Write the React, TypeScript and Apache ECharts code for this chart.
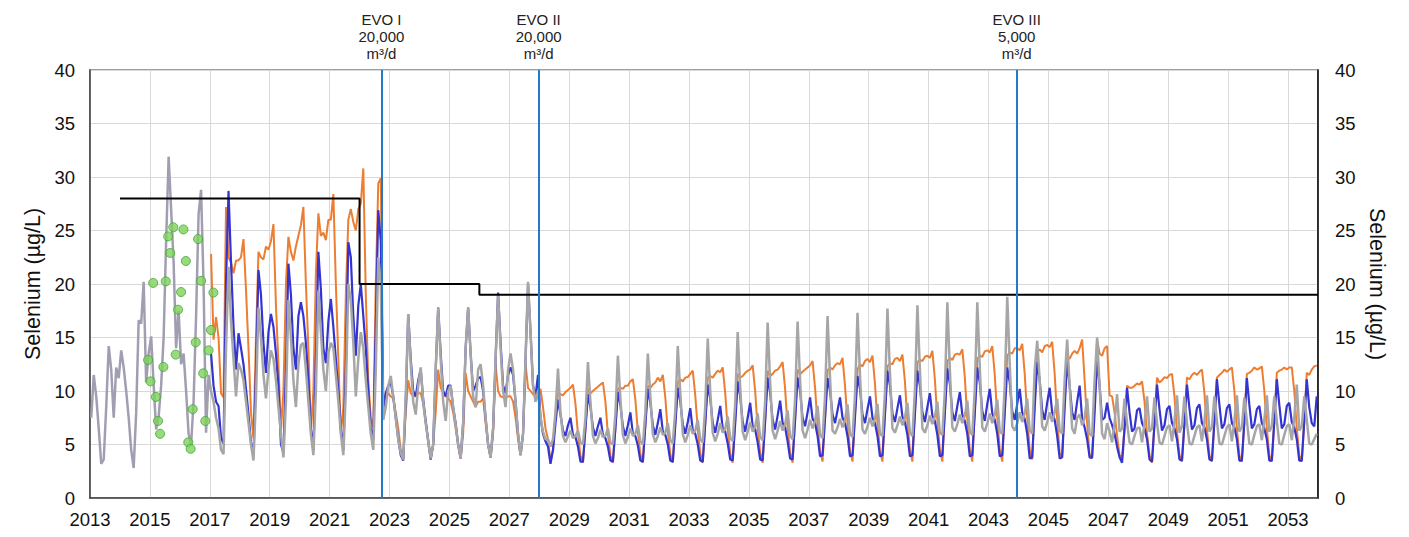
import React, { useEffect, useRef } from 'react';
import * as echarts from 'echarts';

const FONT = '"Liberation Sans", Arial, Helvetica, sans-serif';

// ---- Data (monthly values, one row per year, Jan..Dec) ----
const grayStartYear = 2013;
const grayMonthly: number[][] = [
  /*2013*/ [7.5, 11.5, 9.5, 6.5, 3.2, 3.6, 8.5, 14.2, 12, 7.5, 12.2, 11.2],
  /*2014*/ [13.8, 12.2, 10, 7.5, 4.5, 2.8, 8, 16.6, 16.3, 20.2, 10.8, 13.5],
  /*2015*/ [15.1, 10.6, 6.4, 7.6, 10.5, 15, 24, 31.9, 27, 22, 14, 17.5],
  /*2016*/ [12.5, 13.5, 10, 6, 5, 9, 17, 26.5, 28.8, 20, 6.1, 11.5],
  /*2017*/ [10, 9, 7.5, 6.5, 4.5, 4.1, 14, 21.6, 16.5, 13, 9.5, 12.6],
  /*2018*/ [12, 11, 9, 7, 5, 3.5, 9.5, 17.8, 15, 11.5, 9.3, 12],
  /*2019*/ [13.8, 13, 11, 8.5, 6, 3.8, 9, 18.5, 15, 11, 8.5, 12.5],
  /*2020*/ [14.3, 14.5, 12, 9, 6, 4, 10, 19.4, 15.5, 12, 10, 13.5],
  /*2021*/ [14.5, 14, 11.5, 9, 6, 4, 10, 20, 18.5, 14.5, 9.5, 13],
  /*2022*/ [15.5, 14, 11, 8.5, 6, 4.5, 12, 22.5, 20, 7.3, 8.5, 10.5],
  /*2023*/ [11.4, 9.5, 7.5, 5.5, 4.2, 3.6, 9.5, 17.2, 12.5, 9, 7.8, 10.5],
  /*2024*/ [12.2, 9, 7, 5.3, 3.7, 5, 12, 17.8, 13, 9, 7.2, 10],
  /*2025*/ [10.5, 8.5, 6.8, 5, 3.7, 7, 14, 17.8, 13.5, 9.5, 8.5, 12],
  /*2026*/ [12.5, 10.5, 7.5, 5, 3.8, 6.5, 13, 19, 14, 10, 8.5, 12],
  /*2027*/ [13.5, 12, 9, 6, 4, 6, 13, 20.2, 15.5, 10.5, 9, 10],
  /*2028*/ [7.5, 6.2, 5.5, 5.5, 4.8, 5.5, 8, 12.1, 8, 5.8, 5.2, 5.8],
  /*2029*/ [6.3, 5.6, 5.8, 6.3, 5.2, 5.0, 7.5, 12.7, 9.0, 5.8, 5.1, 5.6],
  /*2030*/ [6.4, 5.7, 5.8, 6.5, 5.2, 5.0, 7.8, 13.3, 9.3, 5.9, 5.1, 5.7],
  /*2031*/ [6.5, 5.8, 6.0, 6.8, 5.3, 5.0, 8, 13.5, 9.5, 6.0, 5.2, 5.8],
  /*2032*/ [6.6, 5.9, 6.1, 7.0, 5.4, 5.1, 8.2, 14.2, 9.8, 6.0, 5.2, 5.9],
  /*2033*/ [6.8, 6.0, 6.3, 7.3, 5.5, 5.2, 8.5, 14.9, 10, 6.1, 5.3, 6.0],
  /*2034*/ [7.0, 6.1, 6.5, 7.6, 5.6, 5.3, 8.8, 15.5, 10.3, 6.2, 5.4, 6.2],
  /*2035*/ [7.1, 6.2, 6.7, 7.9, 5.7, 5.4, 9, 16.4, 10.8, 6.3, 5.5, 6.3],
  /*2036*/ [7.2, 6.3, 6.9, 8.2, 5.8, 5.5, 9.2, 16.5, 11, 6.3, 5.6, 6.4],
  /*2037*/ [7.3, 6.5, 7.2, 8.6, 5.9, 5.6, 9.5, 17.0, 11.2, 6.3, 6.0, 6.6],
  /*2038*/ [7.4, 6.6, 7.3, 8.75, 6.0, 5.7, 9.6, 17.3, 11.5, 6.4, 6.0, 6.7],
  /*2039*/ [7.5, 6.7, 7.4, 8.8, 6.0, 5.8, 9.8, 17.7, 11.7, 6.5, 6.1, 6.8],
  /*2040*/ [7.6, 6.8, 7.5, 8.9, 6.1, 5.8, 10, 18.0, 12, 6.5, 6.1, 6.8],
  /*2041*/ [7.7, 6.9, 7.6, 9.0, 6.1, 5.9, 10, 18.3, 12, 6.6, 6.2, 6.9],
  /*2042*/ [7.8, 7.0, 7.7, 9.1, 6.2, 5.9, 10.2, 18.3, 12.2, 6.6, 6.2, 7.0],
  /*2043*/ [7.9, 7.0, 7.8, 9.2, 6.2, 6.0, 10.5, 18.8, 12.5, 6.7, 6.3, 7.0],
  /*2044*/ [8.0, 7.1, 7.9, 9.3, 6.3, 6.0, 12, 14.7, 11, 6.7, 6.3, 7.1],
  /*2045*/ [8.0, 7.1, 8.0, 9.3, 6.3, 6.0, 11, 14.8, 10.5, 6.5, 6.0, 7.5],
  /*2046*/ [7.8, 6.8, 7.5, 9.3, 6.0, 5.8, 11, 15.0, 10.5, 6.0, 5.5, 7.0],
  /*2047*/ [6.2, 5.2, 7.0, 9.7, 6.2, 6.5, 9.3, 7.0, 5.2, 5.0, 5.8, 6.5],
  /*2048*/ [6.6, 5.2, 7.0, 9.5, 6.2, 6.5, 9.4, 7.0, 5.2, 5.0, 5.8, 6.6],
  /*2049*/ [6.8, 5.3, 7.2, 9.6, 6.1, 6.7, 9.5, 7.0, 5.1, 5.0, 5.8, 6.6],
  /*2050*/ [6.8, 5.3, 7.2, 9.6, 6.2, 6.6, 9.5, 7.2, 5.1, 5.0, 5.8, 6.6],
  /*2051*/ [6.9, 5.3, 7.2, 9.6, 6.2, 6.6, 9.4, 7.2, 5.1, 5.0, 5.9, 6.7],
  /*2052*/ [6.9, 5.4, 7.3, 9.6, 6.2, 6.7, 9.5, 7.2, 5.1, 5.0, 5.9, 6.7],
  /*2053*/ [6.9, 5.4, 7.5, 10.6, 6.3, 6.7, 9.5, 7.3, 5.1, 5.0, 5.5, 6.0],
];

const modelStartYear = 2017;
const orangeMonthly: number[][] = [
  /*2017*/ [22.8, 14.8, 16.9, 15, 9.8, 9.4, 27.2, 22.5, 22, 21, 22.2, 22.2],
  /*2018*/ [22.5, 24.2, 19.5, 14, 8, 5.6, 15, 23, 22.5, 22.3, 23.5, 23.2],
  /*2019*/ [24, 25.6, 18, 12.5, 6.3, 10, 20, 24.4, 23, 22.2, 23.5, 24.5],
  /*2020*/ [25.5, 27.2, 20, 14, 6.2, 10, 21, 26.6, 24.5, 24.8, 24.1, 26],
  /*2021*/ [26, 28.4, 20, 13, 6, 8.5, 19, 26, 27, 25.8, 25, 27],
  /*2022*/ [27.5, 30.8, 19, 11, 7.5, 6.6, 20, 29.4, 29.9, 9.5, 9.2, 9.8],
  /*2023*/ [9.5, 9.3, 8, 6.5, 4.5, 3.7, 8, 11, 9.8, 9.5, 9.5, 9.8],
  /*2024*/ [9.8, 8.8, 7, 5.5, 3.7, 5, 8, 12, 10.3, 9.8, 9.5, 9.3],
  /*2025*/ [9, 8, 6.5, 5, 3.7, 6, 11.7, 10, 9.5, 9, 8.5, 9],
  /*2026*/ [9, 9.3, 7, 5, 3.8, 6, 12.5, 10, 9.5, 9.4, 9.3, 9.5],
  /*2027*/ [9.5, 9, 7.5, 5.5, 4, 6, 12.5, 10.3, 10, 9.7, 9.5, 9.5],
  /*2028*/ [10.2, 8.5, 6.5, 5.5, 3.4, 4.5, 8, 9.8, 9.7, 9.6, 9.9, 10.1],
  /*2029*/ [10.3, 10.6, 8.8, 6.0, 4.0, 3.3, 6.5, 10.2, 9.8, 10, 10.2, 10.4],
  /*2030*/ [10.6, 10.8, 9.0, 6.0, 4.0, 3.3, 6.5, 10.2, 10.3, 10.2, 10.5, 10.5],
  /*2031*/ [10.9, 11.1, 9.2, 6.2, 4.1, 3.3, 6.8, 10.5, 10.3, 10.6, 10.8, 11.25],
  /*2032*/ [10.9, 11.5, 9.4, 6.2, 4.1, 3.3, 7, 10.8, 11.1, 10.9, 11.25, 11.3],
  /*2033*/ [11.6, 11.9, 9.6, 6.4, 4.2, 3.3, 7, 11.25, 11.4, 11.25, 11.6, 11.9],
  /*2034*/ [11.75, 12.2, 9.8, 6.4, 4.2, 3.3, 7.2, 11.6, 11.25, 11.4, 11.7, 11.9],
  /*2035*/ [12, 12.4, 10, 6.5, 4.3, 3.3, 7.2, 11.9, 11.4, 11.6, 11.9, 12],
  /*2036*/ [12.3, 12.7, 10.2, 6.6, 4.3, 3.3, 7.5, 12, 11.6, 11.8, 12, 12.2],
  /*2037*/ [12.4, 12.8, 10.3, 6.8, 4.4, 3.4, 7.5, 11.9, 12.2, 12, 12.4, 12.6],
  /*2038*/ [12.5, 13.1, 10.5, 7.0, 4.4, 3.4, 7.8, 12, 12.5, 12.3, 12.8, 13],
  /*2039*/ [12.7, 13.3, 10.7, 7.0, 4.4, 3.4, 7.8, 12.3, 12.6, 12.5, 13, 13.1],
  /*2040*/ [12.8, 13.4, 10.9, 7.2, 4.5, 3.4, 8, 12.7, 12.9, 12.8, 13.2, 13.3],
  /*2041*/ [13.1, 13.75, 11.1, 7.3, 4.5, 3.4, 8, 12.8, 13.1, 12.9, 13.4, 13.5],
  /*2042*/ [13.4, 13.9, 11.3, 7.4, 4.5, 3.4, 8.2, 13, 13.3, 13.2, 13.7, 13.8],
  /*2043*/ [13.6, 14.2, 11.5, 7.5, 4.5, 3.4, 8.5, 13.3, 13.6, 13.5, 14, 14],
  /*2044*/ [13.8, 14.4, 11.6, 7.6, 4.5, 3.6, 9, 13.6, 13.9, 13.6, 14.2, 14.3],
  /*2045*/ [14.1, 14.6, 11.6, 7.4, 4.2, 3.9, 9, 13.3, 13, 13.5, 13.75, 13.5],
  /*2046*/ [14, 14.8, 11.0, 7.0, 4, 3.9, 9, 14.8, 13.5, 13.3, 14, 14.2],
  /*2047*/ [9.6, 9.5, 8, 5.8, 4, 3.8, 6.5, 10.5, 10.3, 10.3, 10.5, 10.7],
  /*2048*/ [10.6, 10.9, 9.0, 6.0, 4, 3.3, 7, 11.25, 10.8, 11, 11.3, 11.2],
  /*2049*/ [11.5, 11.6, 9.5, 6.2, 4, 3.4, 7, 11.25, 11.1, 11.5, 11.7, 11.5],
  /*2050*/ [11.8, 12, 9.8, 6.4, 4, 3.4, 7.2, 11.25, 11.5, 11.7, 12, 11.8],
  /*2051*/ [12, 12.2, 10, 6.5, 4, 3.4, 7.2, 11.6, 11.7, 11.9, 12.2, 12],
  /*2052*/ [12.1, 12.3, 10, 6.5, 4, 3.4, 7.2, 11.7, 11.9, 12, 12.2, 12],
  /*2053*/ [12.2, 12.2, 10, 6.5, 4, 3.4, 7.2, 11.7, 11.5, 12, 12.3, 12.4],
];

const blueMonthly: number[][] = [
  /*2017*/ [13.5, 10.5, 9.0, 8.6, 5.6, 5.1, 20, 28.7, 22, 16, 12, 15.4],
  /*2018*/ [14, 12.5, 10.2, 7.8, 5.2, 4.0, 12, 21.3, 19, 14.5, 11.7, 15.5],
  /*2019*/ [17.2, 16, 13.5, 10.5, 5, 4.2, 12, 21.9, 19, 14, 12, 17],
  /*2020*/ [18.3, 17, 14.5, 11, 6.5, 4.5, 13, 23, 19.5, 14, 12.6, 16.5],
  /*2021*/ [18.6, 16, 13, 10, 6.5, 4.5, 12, 23.9, 22.5, 17, 13.3, 18],
  /*2022*/ [20, 17, 14, 10, 6.5, 5.5, 16, 26.9, 24, 8.3, 9.8, 10.5],
  /*2023*/ [10.8, 9.5, 7.5, 5.5, 4.0, 3.5, 9, 17.2, 13, 10, 9.5, 11],
  /*2024*/ [12, 9.2, 7.2, 5.3, 3.6, 5, 12, 17.8, 13.5, 10, 9.5, 10.5],
  /*2025*/ [10.5, 8.5, 7, 5, 3.7, 7, 14, 17.8, 13.5, 10, 10.5, 11.2],
  /*2026*/ [11.3, 10, 7.5, 5, 3.8, 6.5, 13, 19.2, 14.5, 10.5, 9.8, 11.5],
  /*2027*/ [12.2, 11.5, 9, 6, 4, 6, 13, 20, 15.5, 10.5, 9.5, 11.5],
  /*2028*/ [7.5, 6.0, 5.3, 4.8, 3.2, 4.5, 7, 9.2, 7.8, 6.3, 5.8, 6.8],
  /*2029*/ [7.5, 5.9, 5.7, 4.8, 3.4, 3.4, 6.5, 9.7, 8.5, 6.6, 5.8, 6.7],
  /*2030*/ [7.5, 5.9, 5.6, 4.8, 3.5, 3.4, 6.5, 9.9, 8.7, 6.7, 5.8, 6.8],
  /*2031*/ [8.0, 6.0, 5.8, 4.9, 3.5, 3.4, 6.8, 10.2, 8.9, 6.8, 5.9, 7.0],
  /*2032*/ [8.3, 6.2, 5.9, 5.0, 3.5, 3.4, 6.8, 10.3, 9.0, 6.9, 6.0, 7.1],
  /*2033*/ [8.4, 6.3, 6.0, 5.0, 3.5, 3.4, 7, 10.6, 9.3, 7.0, 6.1, 7.3],
  /*2034*/ [8.6, 6.5, 6.2, 5.1, 3.6, 3.5, 7, 10.9, 9.5, 7.1, 6.2, 7.5],
  /*2035*/ [8.9, 6.7, 6.4, 5.2, 3.6, 3.5, 7.2, 11.25, 9.8, 7.3, 6.4, 7.7],
  /*2036*/ [9.1, 7.0, 6.6, 5.3, 3.7, 3.6, 7.3, 11.25, 10, 7.5, 6.7, 8.0],
  /*2037*/ [9.4, 7.4, 7.0, 5.8, 3.9, 4.0, 7.5, 11.2, 10, 7.8, 7.0, 8.2],
  /*2038*/ [9.4, 7.5, 7.0, 5.8, 3.9, 4.0, 7.6, 11.4, 10.2, 7.8, 7.0, 8.3],
  /*2039*/ [9.5, 7.5, 7.0, 5.8, 3.9, 4.0, 7.8, 11.9, 10.5, 7.9, 7.1, 8.4],
  /*2040*/ [9.6, 7.6, 7.1, 5.9, 3.9, 4.0, 7.8, 11.9, 10.5, 8.0, 7.1, 8.5],
  /*2041*/ [9.8, 7.7, 7.2, 5.9, 3.9, 4.0, 8, 12.1, 10.7, 8.0, 7.2, 8.6],
  /*2042*/ [9.9, 7.8, 7.2, 6.0, 3.9, 4.0, 8, 12.2, 10.8, 8.1, 7.2, 8.8],
  /*2043*/ [10.2, 7.9, 7.3, 6.0, 3.9, 4.0, 8, 12.2, 10.8, 8.1, 7.3, 8.8],
  /*2044*/ [10.2, 8.0, 7.4, 6.0, 3.7, 3.8, 8.5, 12.7, 11, 8.2, 7.3, 8.9],
  /*2045*/ [10.3, 8.0, 7.3, 5.8, 3.7, 3.8, 8.5, 12.8, 10.5, 8.0, 7.3, 9.0],
  /*2046*/ [10.5, 7.4, 6.6, 5.5, 3.8, 3.75, 8, 13.0, 10.5, 7.3, 7.5, 8.9],
  /*2047*/ [7.5, 6.8, 6.0, 4.8, 3.8, 3.3, 6.5, 10.3, 8.0, 6.2, 6.5, 8.2],
  /*2048*/ [8.4, 7.0, 6.5, 5.5, 3.6, 3.4, 7.0, 10.6, 8.3, 6.3, 6.8, 8.3],
  /*2049*/ [8.6, 7.0, 6.5, 5.5, 3.6, 3.5, 7.0, 10.6, 8.4, 6.4, 6.8, 8.4],
  /*2050*/ [8.75, 7.0, 6.6, 5.5, 3.6, 3.5, 7.2, 11.1, 8.7, 6.5, 6.9, 8.4],
  /*2051*/ [8.75, 7.0, 6.6, 5.5, 3.5, 3.5, 7.2, 11.2, 8.7, 6.5, 6.9, 8.3],
  /*2052*/ [8.6, 7.0, 6.5, 5.5, 3.5, 3.5, 7.2, 11.1, 8.7, 6.5, 6.9, 8.6],
  /*2053*/ [8.9, 7.1, 6.6, 5.5, 3.5, 3.5, 7.2, 11.1, 8.5, 7.0, 6.7, 9.5],
];

// black step (guideline) : [year, value]
const limitSteps: number[][] = [
  [2014, 28],
  [2022, 20],
  [2026, 19],
  [2054, 19],
];

// observed (green dots) : [year, value]
const observed: number[][] = [
  [2014.94, 12.9], [2015.02, 10.9], [2015.11, 20.1], [2015.2, 9.45], [2015.27, 7.2],
  [2015.34, 6.0], [2015.45, 12.25], [2015.53, 20.25], [2015.61, 24.45], [2015.68, 22.9],
  [2015.78, 25.3], [2015.86, 13.4], [2015.94, 17.6], [2016.04, 19.25], [2016.12, 25.1],
  [2016.2, 22.15], [2016.28, 5.2], [2016.36, 4.6], [2016.43, 8.3], [2016.53, 14.55],
  [2016.61, 24.2], [2016.71, 20.3], [2016.78, 11.65], [2016.85, 7.2], [2016.96, 13.8],
  [2017.04, 15.7], [2017.12, 19.2],
];

const evoDates = [2022.73, 2027.98, 2043.94];
const evoLabels = ['EVO I\n20,000\nm³/d', 'EVO II\n20,000\nm³/d', 'EVO III\n5,000\nm³/d'];

const xMin = 2013;
const xMax = 2054;
const yMin = 0;
const yMax = 40;
const historicEnd = 2017;
const yName = 'Selenium (\u00b5g/L)';

function toSeries(startYear: number, rows: number[][]) {
  const out: number[][] = [];
  rows.forEach((row, yi) => {
    row.forEach((v, m) => {
      out.push([startYear + yi + (m + 0.5) / 12, v]);
    });
  });
  return out;
}

export default function App() {
  const ref = useRef<HTMLDivElement>(null);

  useEffect(() => {
    document.body.style.margin = '0';
    if (!ref.current) return;
    const chart = echarts.init(ref.current, undefined, { renderer: 'svg' });

    const grayData = toSeries(grayStartYear, grayMonthly);
    const gFirst = grayData[0][0];
    const gLast = grayData[grayData.length - 1][0];
    const split = (historicEnd - gFirst) / (gLast - gFirst);
    const grayColor = new echarts.graphic.LinearGradient(0, 0, 1, 0, [
      { offset: 0, color: '#a29eb1' },
      { offset: split, color: '#a29eb1' },
      { offset: Math.min(1, split + 0.001), color: '#a6a6a6' },
      { offset: 1, color: '#a6a6a6' },
    ]);

    const axisLabelStyle = { color: '#111', fontSize: 18.5, fontFamily: FONT };

    const option: any = {
      animation: false,
      backgroundColor: '#ffffff',
      textStyle: { fontFamily: FONT },
      grid: {
        left: 90,
        right: 91,
        top: 70,
        bottom: 39,
        show: true,
        borderColor: '#7f7f7f',
        borderWidth: 1.5,
      },
      xAxis: {
        type: 'value',
        min: xMin,
        max: xMax,
        interval: 2,
        axisLine: { show: true, lineStyle: { color: '#404040', width: 1.5 } },
        axisTick: { show: false },
        axisLabel: {
          ...axisLabelStyle,
          margin: 12,
          showMaxLabel: false,
          formatter: (v: number) => String(Math.round(v)),
        },
        splitLine: { show: true, lineStyle: { color: '#d9d9d9', width: 1 } },
      },
      yAxis: [
        {
          type: 'value',
          min: yMin,
          max: yMax,
          interval: 5,
          position: 'left',
          name: yName,
          nameLocation: 'middle',
          nameGap: 34,
          nameTextStyle: { fontSize: 21.5, color: '#111', fontFamily: FONT },
          axisLine: { show: true, lineStyle: { color: '#404040', width: 1.5 } },
          axisTick: { show: false },
          axisLabel: { ...axisLabelStyle, margin: 15 },
          splitLine: { show: true, lineStyle: { color: '#d9d9d9', width: 1 } },
        },
        {
          type: 'value',
          min: yMin,
          max: yMax,
          interval: 5,
          position: 'right',
          name: yName,
          nameLocation: 'middle',
          nameRotate: -90,
          nameGap: 35,
          nameTextStyle: { fontSize: 21.5, color: '#111', fontFamily: FONT },
          axisLine: { show: true, lineStyle: { color: '#000', width: 1.5 } },
          axisTick: { show: false },
          axisLabel: { ...axisLabelStyle, margin: 17 },
          splitLine: { show: false },
        },
      ],
      series: [
        {
          name: 'orange',
          type: 'line',
          data: toSeries(modelStartYear, orangeMonthly),
          showSymbol: false,
          symbol: 'none',
          lineStyle: { color: '#ED7D31', width: 2 },
          z: 2,
        },
        {
          name: 'blue',
          type: 'line',
          data: toSeries(modelStartYear, blueMonthly),
          showSymbol: false,
          symbol: 'none',
          lineStyle: { color: '#3434D0', width: 2.2 },
          z: 2,
        },
        {
          name: 'gray',
          type: 'line',
          data: grayData,
          showSymbol: false,
          symbol: 'none',
          lineStyle: { color: grayColor, width: 2.5 },
          z: 2,
        },
        {
          name: 'limit',
          type: 'line',
          step: 'end',
          data: limitSteps,
          showSymbol: false,
          symbol: 'none',
          lineStyle: { color: '#000', width: 2 },
          z: 3,
        },
        {
          name: 'evo',
          type: 'line',
          data: [],
          showSymbol: false,
          z: 4,
          markLine: {
            silent: true,
            symbol: ['none', 'none'],
            lineStyle: { color: '#2479C9', width: 2, type: 'solid' },
            label: {
              show: true,
              position: 'end',
              distance: 8,
              fontSize: 15,
              lineHeight: 17,
              color: '#222',
              fontFamily: FONT,
            },
            data: evoDates.map((d, i) => [
              { coord: [d, yMin], label: { formatter: evoLabels[i] } },
              { coord: [d, yMax] },
            ]),
          },
        },
        {
          name: 'observed',
          type: 'scatter',
          data: observed,
          symbol: 'circle',
          symbolSize: 9,
          itemStyle: { color: '#7fd15a', borderColor: '#3ea83a', borderWidth: 1 },
          z: 5,
        },
      ],
    };

    chart.setOption(option);
    return () => {
      chart.dispose();
    };
  }, []);

  return <div ref={ref} style={{ width: 1409, height: 537 }} />;
}
